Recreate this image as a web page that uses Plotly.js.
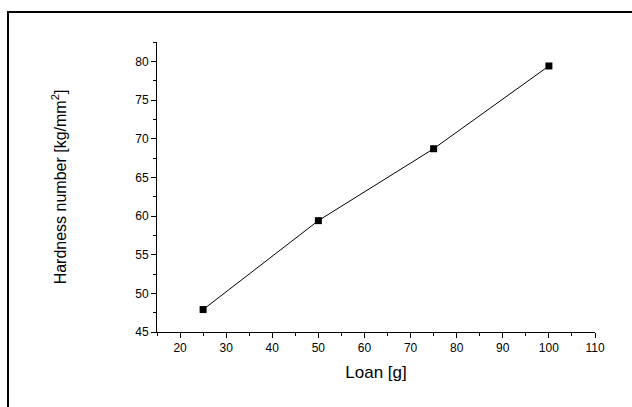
<!DOCTYPE html>
<html>
<head>
<meta charset="utf-8">
<script src="https://cdn.plot.ly/plotly-3.0.1.min.js"></script>
<style>html,body{margin:0;padding:0;background:#fff;}#chart{width:632px;height:407px;}</style>
</head>
<body>
<div id="chart"></div>
<script>
const loads = [25, 50, 75, 100];
const hardness = [47.9, 59.4, 68.7, 79.4];
const xTitle = 'Loan [g]';
const yTitle = 'Hardness number [kg/mm<sup>2</sup>]';

const font = 'Arial, "Liberation Sans", sans-serif';
const trace = {
  x: loads, y: hardness, type: 'scatter', mode: 'lines+markers',
  line: {color: '#000', width: 1},
  marker: {symbol: 'square', size: 7, color: '#000'},
  showlegend: false
};
const axisCommon = {
  showgrid: false, zeroline: false, showline: true, linecolor: '#000', linewidth: 1,
  ticks: 'outside', ticklen: 5, tickwidth: 1, tickcolor: '#000',
  tickfont: {family: font, size: 12, color: '#000'}, mirror: false
};
const layout = {
  width: 632, height: 407,
  margin: {l: 157, r: 37, t: 42, b: 75},
  paper_bgcolor: '#fff', plot_bgcolor: '#fff',
  font: {family: font, color: '#000'},
  xaxis: Object.assign({}, axisCommon, {
    range: [15, 110], dtick: 10, tick0: 0,
    minor: {dtick: 5, tick0: 0, ticks: 'outside', ticklen: 3, tickcolor: '#000', tickwidth: 1, showgrid: false},
    title: {text: xTitle, font: {family: font, size: 17, color: '#000'}, standoff: 11}
  }),
  yaxis: Object.assign({}, axisCommon, {
    range: [45, 82.5], dtick: 5, tick0: 0,
    minor: {dtick: 2.5, tick0: 0, ticks: 'outside', ticklen: 3, tickcolor: '#000', tickwidth: 1, showgrid: false},
    title: {text: yTitle, font: {family: font, size: 16, color: '#000'}, standoff: 64}
  }),
  shapes: [{
    type: 'rect', xref: 'paper', yref: 'paper',
    x0: (8 - 157) / 438, x1: 1.5, y0: -1, y1: 1 + (42 - 12) / 290,
    line: {color: '#000', width: 2}, fillcolor: 'rgba(0,0,0,0)', layer: 'above'
  }]
};
Plotly.newPlot('chart', [trace], layout, {displayModeBar: false, staticPlot: true});
</script>
</body>
</html>
